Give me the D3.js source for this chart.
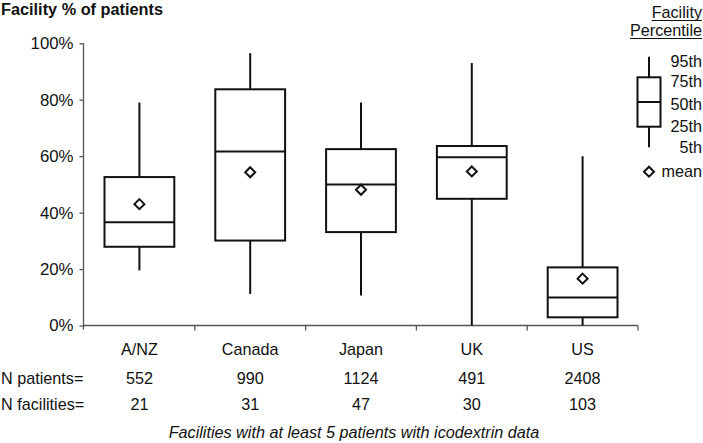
<!DOCTYPE html>
<html><head><meta charset="utf-8">
<script src="https://cdn.jsdelivr.net/npm/d3@7"></script>
<style>
body{margin:0;background:#fff;}
text{font-family:"Liberation Sans",Arial,sans-serif;fill:#111;}
</style></head>
<body><svg id="c" width="703" height="443"></svg>
<script>
const categories = ["A/NZ","Canada","Japan","UK","US"];
const p95 = [79.0, 96.5, 79.0, 93.0, 60.0];
const p75 = [52.6, 83.7, 62.5, 63.6, 20.6];
const p50 = [36.6, 61.7, 50.0, 59.6, 9.9];
const p25 = [27.9, 30.1, 33.1, 44.9, 2.9];
const p5  = [19.5, 11.2, 10.6, 0.0, 0.0];
const means = [43.0, 54.3, 48.1, 54.6, 16.6];
const nPatients = [552, 990, 1124, 491, 2408];
const nFacilities = [21, 31, 47, 30, 103];
const yTicks = [0, 20, 40, 60, 80, 100];
const legendLabels = ["95th","75th","50th","25th","5th"];

const svg = d3.select("#c");
const x = d3.scaleBand().domain(categories).range([84, 638]).paddingInner(0).paddingOuter(0);
const y = d3.scaleLinear().domain([0, 100]).range([325.5, 43.3]);
const boxW = x.bandwidth() * 0.63;
const FS = 16.2;

// title
svg.append("text").attr("x", 1).attr("y", 15).attr("font-size", 16.3).attr("font-weight", "bold")
  .text("Facility % of patients");

// y axis
const yAxis = svg.append("g").attr("transform", "translate(83.5,0)")
  .call(d3.axisLeft(y).tickValues(yTicks).tickFormat(d => d + "%").tickSize(4).tickPadding(6));
yAxis.select(".domain").attr("d", `M0,${y(100)}V${y(0)+4}`);
yAxis.selectAll("line").attr("stroke", "#555").attr("stroke-width", 1.3);
yAxis.select(".domain").attr("stroke", "#555").attr("stroke-width", 1.3);
yAxis.selectAll("text").attr("font-size", 16.8).attr("font-family", "Liberation Sans, Arial, sans-serif").attr("fill", "#111");

// x axis line + ticks at band boundaries
const xg = svg.append("g");
xg.append("line").attr("x1", 83.5).attr("x2", x.range()[1]).attr("y1", y(0)).attr("y2", y(0))
  .attr("stroke", "#555").attr("stroke-width", 1.3);
categories.forEach(c => {
  const bx = x(c) + x.bandwidth();
  xg.append("line").attr("x1", bx).attr("x2", bx).attr("y1", y(0)).attr("y2", y(0) + 5)
    .attr("stroke", "#555").attr("stroke-width", 1.3);
});

// boxes
const boxes = svg.append("g");
categories.forEach((c, i) => {
  const cx = x(c) + x.bandwidth() / 2;
  const g = boxes.append("g").attr("stroke", "#111").attr("stroke-width", 2).attr("fill", "none");
  g.append("line").attr("x1", cx).attr("x2", cx).attr("y1", y(p95[i])).attr("y2", y(p75[i]));
  g.append("line").attr("x1", cx).attr("x2", cx).attr("y1", y(p25[i])).attr("y2", y(p5[i]));
  g.append("rect").attr("x", cx - boxW / 2).attr("width", boxW)
    .attr("y", y(p75[i])).attr("height", y(p25[i]) - y(p75[i])).attr("fill", "#fff");
  g.append("line").attr("x1", cx - boxW / 2).attr("x2", cx + boxW / 2).attr("y1", y(p50[i])).attr("y2", y(p50[i]));
  const my = y(means[i]), r = 5;
  g.append("path").attr("d", `M${cx},${my - r}L${cx + r},${my}L${cx},${my + r}L${cx - r},${my}Z`).attr("fill", "#fff");
});

// category labels and counts
categories.forEach((c, i) => {
  const cx = x(c) + x.bandwidth() / 2;
  svg.append("text").attr("x", cx).attr("y", 355).attr("text-anchor", "middle").attr("font-size", FS).text(c);
  svg.append("text").attr("x", cx).attr("y", 383.5).attr("text-anchor", "middle").attr("font-size", FS).text(nPatients[i]);
  svg.append("text").attr("x", cx).attr("y", 410).attr("text-anchor", "middle").attr("font-size", FS).text(nFacilities[i]);
});
svg.append("text").attr("x", 1).attr("y", 383.5).attr("font-size", FS).text("N patients=");
svg.append("text").attr("x", 1).attr("y", 410).attr("font-size", FS).text("N facilities=");
svg.append("text").attr("x", 354).attr("y", 438).attr("text-anchor", "middle")
  .attr("font-size", FS).attr("font-style", "italic").text("Facilities with at least 5 patients with icodextrin data");

// legend
const lg = svg.append("g");
const lx = 649, lw = 23;
[["Facility", 18], ["Percentile", 36]].forEach(([t, yy]) => {
  const tx = lg.append("text").attr("x", 702).attr("y", yy).attr("text-anchor", "end").attr("font-size", FS).text(t);
  const w = tx.node().getComputedTextLength();
  lg.append("line").attr("x1", 702 - w).attr("x2", 702).attr("y1", yy + 2.5).attr("y2", yy + 2.5)
    .attr("stroke", "#111").attr("stroke-width", 1);
});
const lgb = lg.append("g").attr("stroke", "#111").attr("stroke-width", 2).attr("fill", "none");
lgb.append("line").attr("x1", lx).attr("x2", lx).attr("y1", 56.7).attr("y2", 77.3);
lgb.append("line").attr("x1", lx).attr("x2", lx).attr("y1", 126.7).attr("y2", 147.3);
lgb.append("rect").attr("x", lx - lw / 2).attr("width", lw).attr("y", 77.3).attr("height", 49.4);
lgb.append("line").attr("x1", lx - lw / 2).attr("x2", lx + lw / 2).attr("y1", 102).attr("y2", 102);
const lys = [61, 81, 104, 126, 147];
legendLabels.forEach((t, i) => {
  lg.append("text").attr("x", 702).attr("y", lys[i]).attr("dy", "0.35em").attr("text-anchor", "end").attr("font-size", FS).text(t);
});
lgb.append("path").attr("d", `M${lx},${171.7 - 5}L${lx + 5},171.7L${lx},${171.7 + 5}L${lx - 5},171.7Z`);
lg.append("text").attr("x", 702).attr("y", 171.7).attr("dy", "0.35em").attr("text-anchor", "end").attr("font-size", FS).text("mean");
</script></body></html>
